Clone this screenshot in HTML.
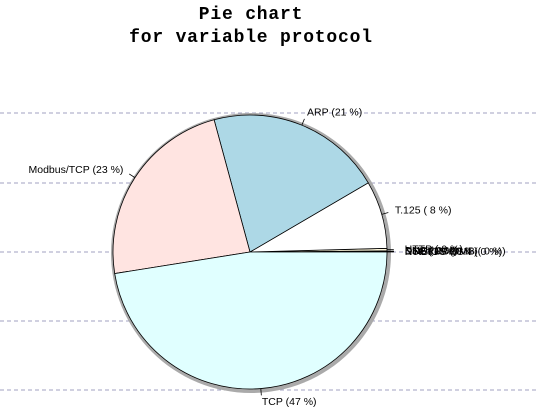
<!DOCTYPE html>
<html><head><meta charset="utf-8"><style>
body{margin:0;background:#fff}
svg{display:block}
</style></head><body>
<svg id="chart" width="536" height="416" font-family="Liberation Sans, sans-serif">
<text x="251" y="19" text-anchor="middle" font-family="Liberation Mono, monospace" font-weight="bold" font-size="18" letter-spacing="0.8">Pie chart</text>
<text x="251" y="42" text-anchor="middle" font-family="Liberation Mono, monospace" font-weight="bold" font-size="18" letter-spacing="0.8">for variable protocol</text>
<g id="grid"></g>
<circle cx="251" cy="253" r="140" fill="#aaa"/>
<g id="slices"></g>
<g id="labels"></g>
</svg>
<script>
const categories=["NetBIOS-SSN","DCERPC/SMB","SSL/TLS","NTP","DNS","HTTP","T.125","ARP","Modbus/TCP","TCP"];
const values=[0.02,0.02,0.02,0.02,0.05,0.3,8.0,20.8,23.3,47.5];
const pctLabels=["0","0","0","0","0","0","8","21","23","47"];
const colors=["#fff","#fff","#fff","#fff","#fff","#fff8dc","#ffffff","#add8e6","#ffe4e1","#e0ffff"];
const gridY=[113,183,252,321,390];
const NS="http://www.w3.org/2000/svg";
const cx=250,cy=252,r=137;
const g=document.getElementById('grid');
gridY.forEach(y=>{const l=document.createElementNS(NS,'line');


l.setAttribute('x1',0);l.setAttribute('x2',536);l.setAttribute('y1',y);l.setAttribute('y2',y);
l.setAttribute('stroke','#a0a0c0');l.setAttribute('stroke-dasharray','4,3');l.setAttribute('stroke-width','1');g.appendChild(l);});
const total=values.reduce((a,b)=>a+b,0);
const S=document.getElementById('slices'),L=document.getElementById('labels');
let a0=0;
function pt(a,rr){return [cx+rr*Math.cos(a),cy-rr*Math.sin(a)];}
values.forEach((v,i)=>{
 const a1=a0+v/total*2*Math.PI;
 const p0=pt(a0,r),p1=pt(a1,r);
 const large=(a1-a0)>Math.PI?1:0;
 const p=document.createElementNS(NS,'path');
 
 
 p.setAttribute('d',`M${cx},${cy}L${p0[0]},${p0[1]}A${r},${r} 0 ${large} 0 ${p1[0]},${p1[1]}Z`);
 p.setAttribute('fill',colors[i]);p.setAttribute('stroke','#000');p.setAttribute('stroke-width','0.8');
 S.appendChild(p);
 const am=(a0+a1)/2;
 const t0=pt(am,r),t1=pt(am,r*1.05),tp=pt(am,r*1.1);
 const tk=document.createElementNS(NS,'line');
 
 
 tk.setAttribute('x1',t0[0]);tk.setAttribute('y1',t0[1]);tk.setAttribute('x2',t1[0]);tk.setAttribute('y2',t1[1]);tk.setAttribute('stroke','#000');tk.setAttribute('stroke-width','0.8');
 L.appendChild(tk);
 const t=document.createElementNS(NS,'text');
 
 
 t.setAttribute('x',tp[0]+(Math.cos(am)>0.99?4:0));t.setAttribute('y',tp[1]+3);t.setAttribute('font-size','10.5');
 t.setAttribute('text-anchor',Math.cos(am)>0?'start':'end');
 t.textContent=categories[i]+" ("+(pctLabels[i].length<2?" ":"")+pctLabels[i]+" %)";
 L.appendChild(t);
 a0=a1;
});
</script>
</body></html>
